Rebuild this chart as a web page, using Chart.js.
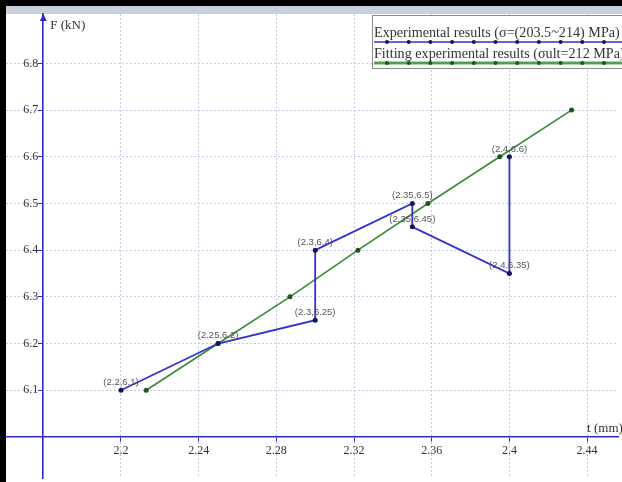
<!DOCTYPE html>
<html>
<head>
<meta charset="utf-8">
<script src="https://cdn.jsdelivr.net/npm/chart.js@4"></script>
<style>
html,body{margin:0;padding:0;background:#fff;}
canvas{display:block;}
</style>
</head>
<body>
<canvas id="c" width="622" height="482"></canvas>
<script>
// ---- data ----
const expT = [2.2, 2.25, 2.3, 2.3, 2.35, 2.35, 2.4, 2.4];
const expF = [6.1, 6.2, 6.25, 6.4, 6.5, 6.45, 6.35, 6.6];
const fitT = [2.213, 2.25, 2.287, 2.322, 2.358, 2.395, 2.432];
const fitF = [6.1, 6.2, 6.3, 6.4, 6.5, 6.6, 6.7];
const xTicks = [2.2, 2.24, 2.28, 2.32, 2.36, 2.4, 2.44];
const yTicks = [6.1, 6.2, 6.3, 6.4, 6.5, 6.6, 6.7, 6.8];
const seriesNames = ['Experimental results (\u03c3=(203.5~214) MPa)', 'Fitting experimental results (\u03c3ult=212 MPa)'];
const axisTitles = ['t (mm)', 'F (kN)'];
const xOrigin = 2.16, yOrigin = 6.0;

const BLUE = '#3131cf', NAVY = '#141457', GREEN = '#3a8a3a', DGREEN = '#1d561d', AXIS = '#2a2ac4';
const SERIF = '"Liberation Serif", "Times New Roman", serif';

const frame = {
  id: 'frame',
  beforeDraw(chart) {
    const ctx = chart.ctx;
    // shift y tick labels left of the axis (padding is ignored for value-positioned axes)
    const ys = chart.scales.y;
    if (!ys._shifted) {
      const orig = ys.drawLabels.bind(ys);
      ys.drawLabels = function (area) {
        chart.ctx.save();
        chart.ctx.translate(-5, 0);
        orig(area);
        chart.ctx.restore();
      };
      ys._shifted = true;
    }
    ctx.save();
    ctx.fillStyle = '#fff';
    ctx.fillRect(0, 0, chart.width, chart.height);
    ctx.fillStyle = '#c8d0dc';
    ctx.fillRect(6, 6, chart.width - 6, 8);
    ctx.fillStyle = '#000';
    ctx.fillRect(0, 0, chart.width, 6);
    ctx.fillRect(0, 0, 6, chart.height);
    ctx.restore();
  },
  afterDraw(chart) {
    const ctx = chart.ctx, xs = chart.scales.x, ys = chart.scales.y;
    const ax = xs.getPixelForValue(xOrigin), ay = ys.getPixelForValue(yOrigin);
    ctx.save();
    // arrow on y axis
    ctx.fillStyle = AXIS;
    ctx.beginPath();
    ctx.moveTo(ax, chart.chartArea.top);
    ctx.lineTo(ax - 3.5, chart.chartArea.top + 7);
    ctx.lineTo(ax + 3.5, chart.chartArea.top + 7);
    ctx.closePath();
    ctx.fill();
    // axis titles
    ctx.fillStyle = '#333';
    ctx.font = '13px ' + SERIF;
    ctx.textAlign = 'left';
    ctx.textBaseline = 'alphabetic';
    ctx.fillText(axisTitles[1], ax + 7, chart.chartArea.top + 15);
    ctx.fillText(axisTitles[0], xs.getPixelForValue(2.44), ay - 5);

    // data labels for experimental series
    const meta = chart.getDatasetMeta(0);
    ctx.font = '9.5px "Liberation Sans", Arial, sans-serif';
    ctx.fillStyle = '#555';
    ctx.textAlign = 'center';
    ctx.textBaseline = 'bottom';
    meta.data.forEach((pt, i) => {
      ctx.fillText('(' + expT[i] + ',' + expF[i] + ')', pt.x, pt.y - 3);
    });

    // legend
    const lx = 372, ly = 15, lw = chart.width - lx + 2, lh = 53;
    ctx.fillStyle = '#fff';
    ctx.fillRect(lx, ly, lw, lh);
    ctx.strokeStyle = '#8a8a8a';
    ctx.lineWidth = 1;
    ctx.strokeRect(lx + 0.5, ly + 0.5, lw, lh);
    ctx.fillStyle = '#333';
    ctx.textAlign = 'left';
    ctx.textBaseline = 'alphabetic';
    const target = 246;
    ctx.font = '14px ' + SERIF;
    const w0 = ctx.measureText(seriesNames[0]).width;
    const fs = 14 * target / w0;
    ctx.font = fs.toFixed(2) + 'px ' + SERIF;
    ctx.fillText(seriesNames[0], lx + 2, ly + 22);
    ctx.fillText(seriesNames[1], lx + 2, ly + 43);
    // legend lines
    const drawLegLine = (y, col, dot, under) => {
      if (under) {
        ctx.strokeStyle = under; ctx.lineWidth = 4;
        ctx.beginPath(); ctx.moveTo(lx + 2, y); ctx.lineTo(chart.width, y); ctx.stroke();
      }
      ctx.strokeStyle = col; ctx.lineWidth = 1.6;
      ctx.beginPath(); ctx.moveTo(lx + 2, y); ctx.lineTo(chart.width, y); ctx.stroke();
      ctx.fillStyle = dot;
      for (let x = lx + 15; x < chart.width; x += 21.7) {
        ctx.beginPath(); ctx.arc(x, y, 2, 0, Math.PI * 2); ctx.fill();
      }
    };
    drawLegLine(ly + 27, BLUE, NAVY, null);
    drawLegLine(ly + 48, GREEN, DGREEN, '#a6d8a0');
    ctx.restore();
  }
};

const noPad = s => { s.paddingTop = 0; s.paddingBottom = 0; s.paddingLeft = 0; s.paddingRight = 0; };

new Chart(document.getElementById('c'), {
  type: 'line',
  data: {
    datasets: [
      {
        label: seriesNames[0],
        data: expT.map((t, i) => ({x: t, y: expF[i]})),
        borderColor: BLUE, borderWidth: 1.8,
        pointRadius: 2.5, pointBackgroundColor: NAVY, pointBorderWidth: 0,
        tension: 0, fill: false
      },
      {
        label: seriesNames[1],
        data: fitT.map((t, i) => ({x: t, y: fitF[i]})),
        borderColor: GREEN, borderWidth: 1.6,
        pointRadius: 2.5, pointBackgroundColor: DGREEN, pointBorderWidth: 0,
        tension: 0, fill: false
      }
    ]
  },
  options: {
    responsive: false,
    animation: false,
    layout: {padding: {left: 6, top: 14, right: 0, bottom: 0}},
    plugins: {legend: {display: false}, tooltip: {enabled: false}},
    scales: {
      x: {
        type: 'linear', min: 2.1408, max: 2.4559,
        position: {y: yOrigin},
        afterBuildTicks: s => { s.ticks = xTicks.map(v => ({value: v})); },
        afterFit: noPad,
        grid: {color: '#c3c8e6', lineWidth: 1, drawTicks: true, tickLength: 4, tickColor: AXIS, tickWidth: 1},
        border: {display: true, color: AXIS, width: 1.6, dash: [2, 2]},
        ticks: {color: '#333', font: {family: SERIF, size: 12}, padding: 3, maxRotation: 0, autoSkip: false,
          callback: v => String(v)}
      },
      y: {
        type: 'linear', min: 5.912, max: 6.9058,
        position: {x: xOrigin},
        afterBuildTicks: s => { s.ticks = yTicks.map(v => ({value: v})); },
        afterFit: noPad,
        grid: {color: '#c3c8e6', lineWidth: 1, drawTicks: true, tickLength: 4, tickColor: AXIS, tickWidth: 1},
        border: {display: true, color: AXIS, width: 1.6, dash: [2, 2]},
        ticks: {color: '#333', font: {family: SERIF, size: 12}, padding: 5, autoSkip: false,
          callback: v => String(v)}
      }
    }
  },
  plugins: [frame]
});
</script>
</body>
</html>
